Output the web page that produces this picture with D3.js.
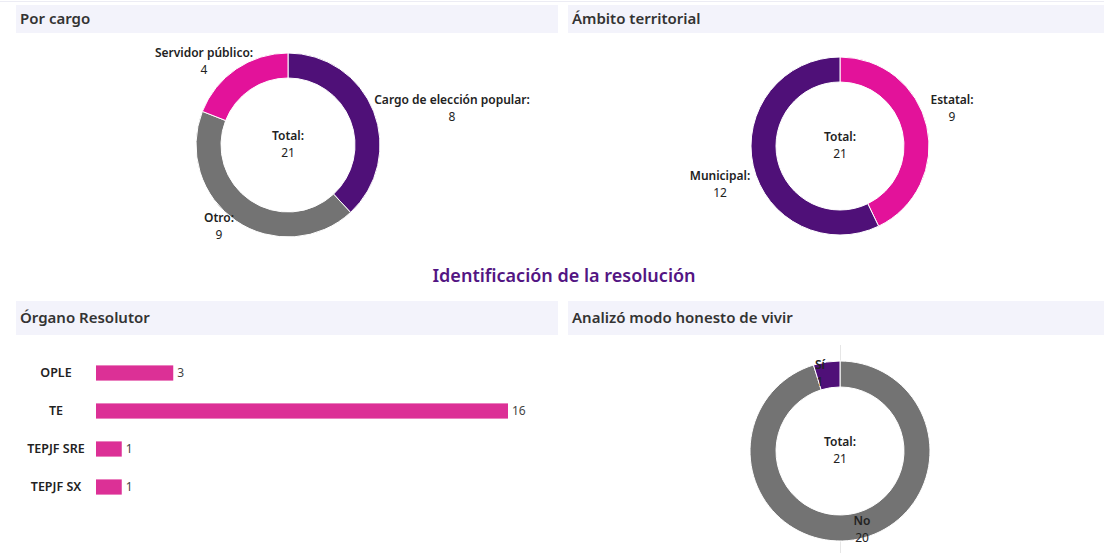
<!DOCTYPE html>
<html>
<head>
<meta charset="utf-8">
<script src="https://cdn.jsdelivr.net/npm/d3@7"></script>
<style>
  body { margin: 0; background: #fff; font-family: "Noto Sans", sans-serif; }
  svg { display: block; }
  .header_text { font-size: 15px; font-weight: 600; fill: #333; }
  .slice_label { font-size: 12px; fill: #222; }
  .slice_label .name { font-weight: 600; }
</style>
</head>
<body>
<div id="chart"></div>
<script>
// Por cargo
var cargo_names = ["Cargo de elección popular", "Otro", "Servidor público"]
var cargo_values = [8, 9, 4]
// Ámbito territorial
var ambito_names = ["Estatal", "Municipal"]
var ambito_values = [9, 12]
// Órgano Resolutor
var organo_names = ["OPLE", "TE", "TEPJF SRE", "TEPJF SX"]
var organo_values = [3, 16, 1, 1]
// Analizó modo honesto de vivir
var honesto_names = ["No", "Sí"]
var honesto_values = [20, 1]

var purple = "#4f1078", gray = "#737373", magenta = "#e3129a", bar_pink = "#dc3096"

var width = 1104, height = 553
var svg = d3.select("#chart").append("svg")
  .attr("width", width)
  .attr("height", height)

// faint top border
svg.append("line")
  .attr("x1", 0).attr("x2", width).attr("y1", 1.5).attr("y2", 1.5)
  .attr("stroke", "#ececf4")

function drawHeader(x, y, w, h, text) {
  var g = svg.append("g")
  g.append("rect")
    .attr("x", x).attr("y", y).attr("width", w).attr("height", h)
    .attr("fill", "#f3f3fb")
  g.append("text")
    .attr("class", "header_text")
    .attr("x", x + 4)
    .attr("y", y + h / 2)
    .attr("dy", "0.35em")
    .text(text)
}

drawHeader(16, 5, 542, 28, "Por cargo")
drawHeader(568, 5, 536, 28, "Ámbito territorial")
drawHeader(16, 301, 542, 34, "Órgano Resolutor")
drawHeader(568, 301, 536, 34, "Analizó modo honesto de vivir")

svg.append("text")
  .attr("x", 564)
  .attr("y", 276)
  .attr("dy", "0.35em")
  .attr("text-anchor", "middle")
  .style("font-size", "18px")
  .style("font-weight", "600")
  .style("fill", "#531583")
  .text("Identificación de la resolución")

function twoLine(g, x, y, name, value, colon) {
  var t = g.append("text")
    .attr("class", "slice_label")
    .attr("text-anchor", "middle")
  t.append("tspan").attr("class", "name")
    .attr("x", x).attr("y", y)
    .text(name + (colon ? ":" : ""))
  t.append("tspan")
    .attr("x", x).attr("y", y + 17)
    .text(value)
}

// donut: label positions given as [x, y] relative to centre
function drawDonut(cx, cy, r_out, r_in, names, values, colors, label_pos, colon, axis) {
  var g = svg.append("g").attr("transform", "translate(" + cx + "," + cy + ")")
  if (axis) {
    // faint axis line, only visible outside the ring
    g.append("line")
      .attr("x1", 0.5).attr("x2", 0.5).attr("y1", -r_out - 16).attr("y2", -r_out)
      .attr("stroke", "#e6e6e6")
    g.append("line")
      .attr("x1", 0.5).attr("x2", 0.5).attr("y1", r_out).attr("y2", r_out + 16)
      .attr("stroke", "#e6e6e6")
  }
  var pie = d3.pie().sort(null).value(function(d) { return d })
  var arc = d3.arc().innerRadius(r_in).outerRadius(r_out)
  var arcs = pie(values)
  g.selectAll("path.slice")
    .data(arcs)
    .enter().append("path")
      .attr("class", "slice")
      .attr("d", arc)
      .attr("fill", function(d, i) { return colors[i] })
      .attr("stroke", "#fff")
      .attr("stroke-width", 1)
  var total = d3.sum(values)
  twoLine(g, 0, -5, "Total", total, true)
  arcs.forEach(function(a, i) {
    twoLine(g, label_pos[i][0], label_pos[i][1], names[i], values[i], colon)
  })
  return g
}

drawDonut(288, 145, 92, 67, cargo_names, cargo_values, [purple, gray, magenta],
  [[164, -41], [-69, 77], [-84, -88]], true, false)

drawDonut(840, 146, 89, 64, ambito_names, ambito_values, [magenta, purple],
  [[112, -42], [-120, 34]], true, false)

drawDonut(840, 451, 90, 64, honesto_names, honesto_values, [gray, purple],
  [[22, 74], [-20, -82]], false, true)

// bar chart
var x = d3.scaleLinear().domain([0, 16]).range([96, 508])
var y = d3.scaleBand().domain(organo_names).range([354, 506]).paddingInner(0.6).paddingOuter(0.3)

var bars = svg.append("g")
bars.selectAll("rect")
  .data(organo_values)
  .enter().append("rect")
    .attr("x", x(0))
    .attr("y", function(d, i) { return y(organo_names[i]) })
    .attr("width", function(d) { return x(d) - x(0) })
    .attr("height", y.bandwidth())
    .attr("fill", bar_pink)
bars.selectAll("text.value")
  .data(organo_values)
  .enter().append("text")
    .attr("class", "value")
    .attr("x", function(d) { return x(d) + 4 })
    .attr("y", function(d, i) { return y(organo_names[i]) + y.bandwidth() / 2 })
    .attr("dy", "0.35em")
    .style("font-size", "12px")
    .style("fill", "#444")
    .text(function(d) { return d })
bars.selectAll("text.cat")
  .data(organo_names)
  .enter().append("text")
    .attr("class", "cat")
    .attr("x", 56)
    .attr("y", function(d) { return y(d) + y.bandwidth() / 2 })
    .attr("dy", "0.35em")
    .attr("text-anchor", "middle")
    .style("font-size", "12.5px")
    .style("font-weight", "600")
    .style("fill", "#222")
    .text(function(d) { return d })
</script>
</body>
</html>
